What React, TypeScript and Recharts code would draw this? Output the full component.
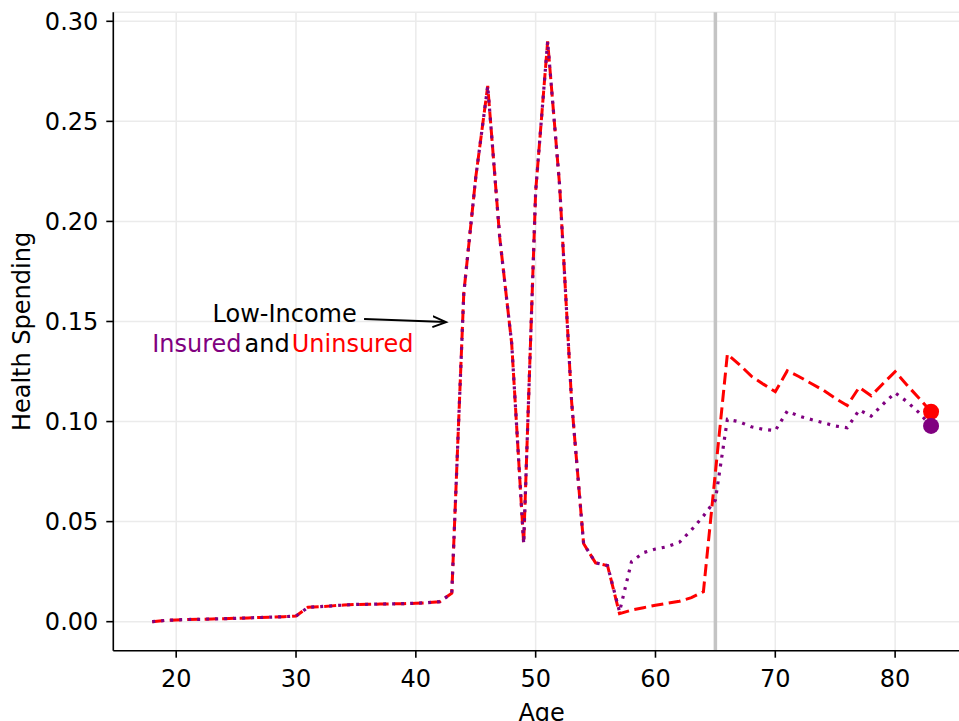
import React from "react";
import {
  LineChart,
  Line,
  XAxis,
  YAxis,
  CartesianGrid,
  ReferenceLine,
  ReferenceDot,
} from "recharts";

const ages = [
  18, 19, 20, 21, 22, 23, 24, 25, 26, 27, 28, 29, 30, 31, 32, 33, 34, 35, 36,
  37, 38, 39, 40, 41, 42, 43, 44, 45, 46, 47, 48, 49, 50, 51, 52, 53, 54, 55,
  56, 57, 58, 59, 60, 61, 62, 63, 64, 65, 66, 67, 68, 69, 70, 71, 72, 73, 74,
  75, 76, 77, 78, 79, 80, 81, 82, 83,
];

// red dashed
const uninsured = [
  0.0, 0.0006, 0.0009, 0.0011, 0.0012, 0.0014, 0.0015, 0.0017, 0.0019, 0.0021,
  0.0023, 0.0025, 0.0028, 0.0072, 0.0075, 0.0079, 0.0083, 0.0086, 0.0087,
  0.0088, 0.0089, 0.009, 0.0092, 0.0095, 0.01, 0.0142, 0.164, 0.222, 0.2677,
  0.192, 0.139, 0.039, 0.215, 0.29, 0.218, 0.11, 0.039, 0.0294, 0.028, 0.004,
  0.0058, 0.007, 0.0082, 0.0092, 0.0102, 0.012, 0.015, 0.0745, 0.1337, 0.1285,
  0.1227, 0.1187, 0.1149, 0.1254, 0.1224, 0.119, 0.1157, 0.1116, 0.108, 0.1171,
  0.1129, 0.119, 0.1249, 0.1182, 0.1116, 0.1049,
];

// purple dotted
const insured = [
  0.0, 0.0006, 0.0009, 0.0011, 0.0012, 0.0014, 0.0015, 0.0017, 0.0019, 0.0021,
  0.0023, 0.0025, 0.0028, 0.0072, 0.0075, 0.0079, 0.0083, 0.0086, 0.0087,
  0.0088, 0.0089, 0.009, 0.0092, 0.0095, 0.01, 0.0142, 0.164, 0.222, 0.2677,
  0.192, 0.139, 0.039, 0.215, 0.29, 0.218, 0.11, 0.039, 0.0294, 0.028, 0.005,
  0.03, 0.0345, 0.0363, 0.0375, 0.0397, 0.0458, 0.0528, 0.0608, 0.1011, 0.0999,
  0.0974, 0.0961, 0.0955, 0.1052, 0.1027, 0.101, 0.0994, 0.0978, 0.0969,
  0.1058, 0.1027, 0.1087, 0.1144, 0.1099, 0.1044, 0.0978,
];

const xTicks = [20, 30, 40, 50, 60, 70, 80];
const yTicks = [0, 0.05, 0.1, 0.15, 0.2, 0.25, 0.3];

const data = ages.map((age, i) => ({
  age,
  uninsured: uninsured[i],
  insured: insured[i],
}));

const RED = "#ff0000";
const PURPLE = "#800080";
const FONT = 24;
const last = ages.length - 1;

const endDot = (color: string) => (p: any) =>
  p.index === last ? (
    <circle key={`end-${color}`} cx={p.cx} cy={p.cy} r={8} fill={color} />
  ) : (
    <g key={`d-${color}-${p.index}`} />
  );

export default function App() {
  const axisStyle = { stroke: "#000", strokeWidth: 1.6 };
  return (
    <div
      style={{
        position: "absolute",
        left: 0,
        top: 0,
        width: 959,
        height: 721,
        overflow: "hidden",
        background: "#fff",
        fontFamily: "'DejaVu Sans', sans-serif",
      }}
    >
      <svg width={0} height={0} style={{ position: "absolute" }}>
        <defs>
          <marker
            id="arrowHead"
            markerUnits="userSpaceOnUse"
            markerWidth={16}
            markerHeight={14}
            refX={13.5}
            refY={7}
            orient="auto"
          >
            <path
              d="M0,1.5 L13.5,7 L0,12.5"
              fill="none"
              stroke="#000"
              strokeWidth={2}
            />
          </marker>
        </defs>
      </svg>
      <LineChart
        width={980}
        height={740}
        data={data}
        margin={{ top: 12.3, right: 10, bottom: 0, left: 0 }}
      >
        <CartesianGrid stroke="#ebebeb" strokeWidth={1.5} />
        <XAxis
          dataKey="age"
          type="number"
          domain={[14.75, 86.25]}
          ticks={xTicks}
          allowDataOverflow
          height={89.3}
          tickSize={7}
          tickMargin={12}
          tick={{ fontSize: FONT, fill: "#000" }}
          axisLine={axisStyle}
          tickLine={axisStyle}
          label={{
            content: (props: any) => {
              const vb = props.viewBox;
              return (
                <text
                  x={vb.x + vb.width / 2}
                  y={vb.y + 70}
                  textAnchor="middle"
                  fontSize={FONT}
                  fill="#000"
                >
                  Age
                </text>
              );
            },
          }}
        />
        <XAxis
          xAxisId="top"
          orientation="top"
          type="number"
          domain={[14.75, 86.25]}
          allowDataOverflow
          height={0}
          tick={false}
          tickLine={false}
          axisLine={axisStyle}
        />
        <YAxis
          type="number"
          domain={[-0.0145, 0.3045]}
          ticks={yTicks}
          allowDataOverflow
          width={113.3}
          tickSize={7}
          tickMargin={8}
          tickFormatter={(v: number) => v.toFixed(2)}
          tick={{ fontSize: FONT, fill: "#000" }}
          axisLine={axisStyle}
          tickLine={axisStyle}
          label={{
            content: (props: any) => {
              const vb = props.viewBox;
              const x = vb.x + 30;
              const y = vb.y + vb.height / 2;
              return (
                <text
                  x={x}
                  y={y}
                  transform={`rotate(-90, ${x}, ${y})`}
                  textAnchor="middle"
                  fontSize={FONT}
                  fill="#000"
                >
                  Health Spending
                </text>
              );
            },
          }}
        />
        <ReferenceLine x={65} stroke="#c4c4c4" strokeWidth={3.5} />
        <Line
          dataKey="uninsured"
          type="linear"
          stroke={RED}
          strokeWidth={3}
          strokeDasharray="12 5.5"
          dot={endDot(RED)}
          activeDot={false}
          isAnimationActive={false}
        />
        <Line
          dataKey="insured"
          type="linear"
          stroke={PURPLE}
          strokeWidth={3.2}
          strokeDasharray="3 6"
          dot={endDot(PURPLE)}
          activeDot={false}
          isAnimationActive={false}
        />
        <ReferenceLine
          segment={[
            { x: 35.68, y: 0.1512 },
            { x: 42.52, y: 0.1497 },
          ]}
          shape={(p: any) => (
            <line
              x1={p.x1}
              y1={p.y1}
              x2={p.x2}
              y2={p.y2}
              stroke="#000"
              strokeWidth={2}
              markerEnd="url(#arrowHead)"
            />
          )}
        />
        <ReferenceDot
          x={29.05}
          y={0.1497}
          r={1}
          fill="none"
          stroke="none"
          label={{
            content: (props: any) => {
              const vb = props.viewBox;
              return (
                <text
                  x={vb.x + vb.width / 2}
                  y={vb.y + vb.height / 2}
                  textAnchor="middle"
                  fontSize={FONT}
                  fill="#000"
                >
                  Low-Income
                </text>
              );
            },
          }}
        />
        <ReferenceDot
          x={18}
          y={0.1349}
          r={1}
          fill="none"
          stroke="none"
          label={{
            content: (props: any) => {
              const vb = props.viewBox;
              return (
                <text
                  x={vb.x + vb.width / 2}
                  y={vb.y + vb.height / 2}
                  textAnchor="start"
                  fontSize={FONT}
                >
                  <tspan fill={PURPLE}>Insured</tspan>
                  <tspan dx={3} fill="#000">
                    and
                  </tspan>
                  <tspan dx={2} fill={RED}>
                    Uninsured
                  </tspan>
                </text>
              );
            },
          }}
        />
      </LineChart>
    </div>
  );
}
